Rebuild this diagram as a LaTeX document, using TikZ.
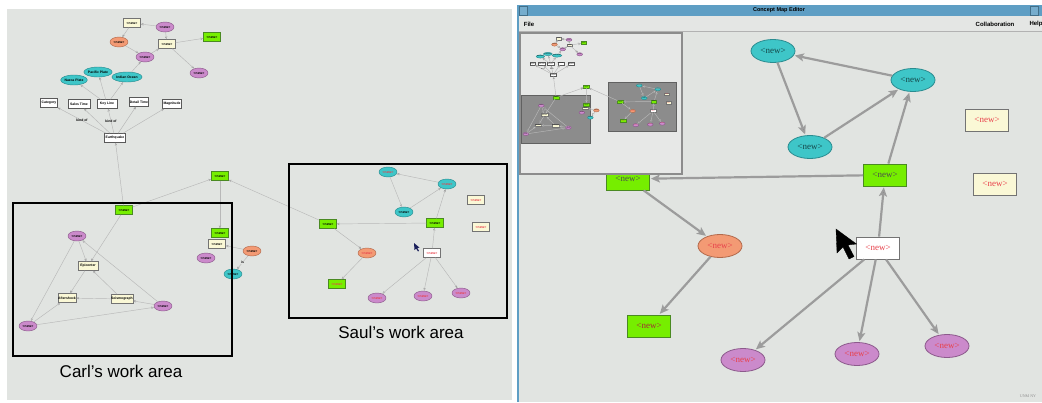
\documentclass[tikz,border=0pt]{standalone}
\usepackage{fontspec}
\setmainfont{Liberation Serif}
\newfontfamily\armfont{Liberation Sans}
\usetikzlibrary{arrows.meta,positioning,shapes.geometric}

\definecolor{paper}{HTML}{E1E4E1}
\definecolor{insetgray}{HTML}{E7E8E7}
\definecolor{menugray}{HTML}{E4E6E4}
\definecolor{titleblue}{HTML}{5E9EC4}
\definecolor{cursornavy}{HTML}{1A1F5A}
\definecolor{cmcyan}{HTML}{3EC6C8}
\definecolor{cmcyand}{HTML}{2A8C90}
\definecolor{cmpurple}{HTML}{CB8ACB}
\definecolor{cmpurpled}{HTML}{8C5A8C}
\definecolor{cmorange}{HTML}{F39A74}
\definecolor{cmoranged}{HTML}{B26A4C}
\definecolor{cmgreen}{HTML}{76EE00}
\definecolor{cmgreend}{HTML}{4A8A22}
\definecolor{cmbeige}{HTML}{FAF8D6}
\definecolor{cmred}{HTML}{E8404A}
\definecolor{linkgray}{HTML}{9C9C9C}

\tikzset{
    small/.style={draw=black!65, line width=0.45pt, inner sep=0pt,
                  font=\armfont\bfseries\fontsize{3.4}{3.4}\selectfont},
    sbox/.style={small, rectangle, minimum width=17pt, minimum height=9pt},
    sell/.style={small, ellipse, minimum width=18pt, minimum height=10pt},
    big/.style={line width=0.8pt, inner sep=0pt, text=cmred,
                font=\fontsize{9}{10}\selectfont},
    bbox/.style={big, rectangle, minimum width=43pt, minimum height=22pt},
    bell/.style={big, ellipse, minimum width=44pt, minimum height=23pt},
    ccyan/.style={fill=cmcyan, draw=cmcyand},
    cpurple/.style={fill=cmpurple, draw=cmpurpled},
    corange/.style={fill=cmorange, draw=cmoranged},
    cgreen/.style={fill=cmgreen, draw=cmgreend},
    cbeige/.style={fill=cmbeige, draw=black!55},
    cwhite/.style={fill=white, draw=black!55},
    lbl/.style={inner sep=0.4pt, font=\armfont\bfseries\fontsize{3.4}{3.4}\selectfont},
    slink/.style={->, draw=black!28, line width=0.45pt,
                  >={Stealth[length=3pt,width=2.4pt]}},
    blink/.style={->, draw=linkgray, line width=2.2pt, shorten >=1pt,
                  >={Stealth[length=9pt,width=8pt,inset=2pt]}},
    caption/.style={font=\armfont\fontsize{17}{18}\selectfont},
    menutext/.style={font=\armfont\bfseries\fontsize{6}{7}\selectfont, inner sep=0pt},
    pointer/.style={fill=black, draw=black, line width=0.3pt},
}

\newcommand\nw{\textless new\textgreater}

\newcommand\conceptmap{%
    \node[sbox, cbeige] (t1) at (132,23) {\nw};
    \node[sell, cpurple] (t2) at (165,27) {\nw};
    \node[sell, corange] (t3) at (119,42) {\nw};
    \node[sbox, cbeige] (t4) at (167,44) {\nw};
    \node[sbox, cgreen] (t5) at (212,37) {\nw};
    \node[sell, cpurple] (t6) at (145,57) {\nw};
    \node[sell, cpurple] (t7) at (199,73) {\nw};

    \node[sell, ccyan, minimum width=21pt] (c1) at (74,80) {Nazca Plate};
    \node[sell, ccyan] (c2) at (98,72) {Pacific Plate};
    \node[sell, ccyan] (c3) at (127,77) {Indian Ocean};

    \node[sbox, fill=white] (r1) at (49,103) {Category};
    \node[sbox, fill=white, minimum width=22pt] (r2) at (79,104) {Sales Time};
    \node[sbox, fill=white, minimum width=20pt] (r3) at (107,104) {Key Line};
    \node[sbox, fill=white, minimum width=19pt] (r4) at (139,102) {Detail Time};
    \node[sbox, fill=white, minimum width=19pt] (r5) at (172,104) {Magnitude};
    \node[sbox, fill=white, minimum width=21pt] (h) at (115,138) {Earthquake};

    \node[sbox, cgreen] (g1) at (124,210) {\nw};
    \node[sbox, cgreen] (gt) at (220,176) {\nw};
    \node[sbox, cgreen] (gr) at (220,233) {\nw};
    \node[sbox, cbeige] (rb) at (217,244) {\nw};
    \node[sell, corange] (ro) at (252,251) {\nw};
    \node[sell, cpurple] (rp) at (206,258) {\nw};
    \node[sell, ccyan] (rc) at (233,274) {\nw};

    \node[sell, cpurple] (cp1) at (77,236) {\nw};
    \node[sbox, cbeige, minimum width=20pt] (cb1) at (88,266) {Epicenter};
    \node[sbox, cbeige, minimum width=18pt] (cb2) at (67,298) {Aftershock};
    \node[sbox, cbeige, minimum width=20pt] (cb3) at (122,299) {Seismograph};
    \node[sell, cpurple] (cp2) at (163,306) {\nw};
    \node[sell, cpurple] (cp3) at (28,326) {\nw};

    \node[sell, ccyan, text=cmred] (sc1) at (388,172) {\nw};
    \node[sell, ccyan, text=cmred] (sc2) at (447,184) {\nw};
    \node[sell, ccyan] (sc3) at (404,212) {\nw};
    \node[sbox, cbeige, text=cmred] (sb1) at (476,200) {\nw};
    \node[sbox, cbeige, text=cmred] (sb2) at (481,227) {\nw};
    \node[sbox, cgreen] (gs) at (328,224) {\nw};
    \node[sbox, cgreen] (sg2) at (435,223) {\nw};
    \node[sbox, cwhite, text=cmred] (sw) at (432,253) {\nw};
    \node[sell, corange, text=cmred] (so) at (367,253) {\nw};
    \node[sbox, cgreen, text=cmred] (sg3) at (337,284) {\nw};
    \node[sell, cpurple, text=cmred] (sp1) at (377,298) {\nw};
    \node[sell, cpurple, text=cmred] (sp2) at (423,296) {\nw};
    \node[sell, cpurple, text=cmred] (sp3) at (461,293) {\nw};

    % top cluster
    \path[slink] (t2) edge (t1);
    \path[slink] (t1) edge (t3);
    \path[slink] (t2) edge (t4);
    \path[slink] (t3) edge (t6);
    \path[slink] (t6) edge (t4);
    \path[slink] (t4) edge (t5);
    \path[slink] (t4) edge (t7);
    \path[slink] (c3) edge (t6);
    \path[slink] (r3) edge (c1);
    \path[slink] (r3) edge (c2);
    \path[slink] (r3) edge (c3);
    \path[slink] (h) edge node[lbl] {kind of} (r1);
    \path[slink] (h) edge (r2);
    \path[slink] (h) edge node[lbl] {kind of} (r3);
    \path[slink] (h) edge (r4);
    \path[slink] (h) edge (r5);

    % links between the areas
    \path[slink] (g1) edge (h);
    \path[slink] (g1) edge (gt);
    \path[slink] (gt) edge (gr);
    \path[slink] (gs) edge (gt);
    \path[slink] (ro) edge (rb);
    \path[slink] (ro) edge node[lbl, fill=paper] {is} (rc);

    % Carl
    \path[slink] (g1) edge (cb1);
    \path[slink] (cp1) edge (cb1);
    \path[slink] (cp1) edge (cp3);
    \path[slink] (cp2) edge (cp1);
    \path[slink] (cb1) edge (cb2);
    \path[slink] (cb3) edge (cb1);
    \path[slink] (cb3) edge (cb2);
    \path[slink] (cp2) edge (cb3);
    \path[slink] (cp3) edge (cb2);
    \path[slink] (cp3) edge (cp2);

    % Saul
    \path[slink] (sc2) edge (sc1);
    \path[slink] (sc1) edge (sc3);
    \path[slink] (sc3) edge (sc2);
    \path[slink] (sg2) edge (sc2);
    \path[slink] (sg2) edge (gs);
    \path[slink] (gs) edge (so);
    \path[slink] (so) edge (sg3);
    \path[slink] (sw) edge (sg2);
    \path[slink] (sw) edge (sp1);
    \path[slink] (sw) edge (sp2);
    \path[slink] (sw) edge (sp3);
}

\begin{document}
\begin{tikzpicture}[x=1pt,y=-1pt]
    \useasboundingbox (0,0) rectangle (1042,402);

    % shared map
    \fill[paper] (7,9) rectangle (512,400);
    \conceptmap
    \draw[line width=1.1pt] (13,203) rectangle (232,356);
    \draw[line width=1.1pt] (289,164) rectangle (507,318);
    \fill[cursornavy] (414,243) -- (414.5,250) -- (416,248.5) -- (418,251.5) -- (419,250.8) -- (417.3,248) -- (419.5,247.6) -- cycle;
    \node[caption] (carl) at (121,371) {Carl’s work area};
    \node[caption] (saul) at (401,332) {Saul’s work area};

    % editor window
    \fill[paper] (517,5) rectangle (1042,402);
    \fill[titleblue] (517,5) rectangle (1042,16);
    \draw[titleblue!70!black, fill=titleblue!85!white] (519,6) rectangle (527,15);
    \draw[titleblue!70!black, fill=titleblue!85!white] (1030,6) rectangle (1038,15);
    \node[menutext, font=\armfont\bfseries\fontsize{5.5}{6}\selectfont] (title) at (779,10.5) {Concept Map Editor};
    \fill[menugray] (517,16) rectangle (1042,31);
    \draw[black!30] (517,31) -- (1042,31);
    \node[menutext] (file) at (529,24) {File};
    \node[menutext] (collab) at (995,24) {Collaboration};
    \node[menutext] (help) at (1036,24) {Help};
    \draw[titleblue, line width=2pt] (518,5) -- (518,402);
    \node[font=\fontsize{4}{4}\selectfont, text=black!45] (unm) at (1028,396) {UNM NY};

    \node[bbox, cgreen, text=black!70] (eg2) at (628,179) {\nw};

    % overview
    \draw[fill=insetgray, draw=black!45, line width=1.5pt] (520,33) rectangle (682,174);
    \begin{scope}
        \clip (521,34) rectangle (681,173);
        \begin{scope}[shift={(517,31.3)}, scale=0.315, transform shape, name prefix=m-]
            \fill[black!45, draw=black!62, line width=1pt] (13,203) rectangle (232,356);
            \fill[black!45, draw=black!62, line width=1pt] (289,164) rectangle (507,318);
            \conceptmap
        \end{scope}
    \end{scope}

    \node[bell, ccyan, text=cmcyand!50!black] (ea1) at (773,51) {\nw};
    \node[bell, ccyan, text=cmcyand!50!black] (ea2) at (913,80) {\nw};
    \node[bell, ccyan, text=cmcyand!50!black] (ea3) at (810,147) {\nw};
    \node[bbox, cbeige] (eb1) at (987,120) {\nw};
    \node[bbox, cbeige] (eb2) at (995,184) {\nw};
    \node[bbox, cgreen, text=black!70] (eg1) at (885,175) {\nw};
    \node[bell, corange] (eo) at (720,246) {\nw};
    \node[bbox, cgreen, text=cmred!70!black] (eg3) at (649,326) {\nw};
    \node[bbox, cwhite] (ew) at (878,248) {\nw};
    \node[bell, cpurple] (ep1) at (743,360) {\nw};
    \node[bell, cpurple] (ep2) at (857,354) {\nw};
    \node[bell, cpurple] (ep3) at (947,346) {\nw};

    \path[blink] (ea2) edge (ea1);
    \path[blink] (ea1) edge (ea3);
    \path[blink] (ea3) edge (ea2);
    \path[blink] (eg1) edge (ea2);
    \path[blink] (ew) edge (eg1);
    \path[blink] (eg1) edge (eg2);
    \path[blink] (eg2) edge (eo);
    \path[blink] (eo) edge (eg3);
    \path[blink] (ew) edge (ep1);
    \path[blink] (ew) edge (ep2);
    \path[blink] (ew) edge (ep3);

    \draw[pointer] (836,229) -- (837,253) -- (843,247) -- (849,259) -- (854,256.5) -- (848,245) -- (856.5,244) -- cycle;
\end{tikzpicture}
\end{document}
